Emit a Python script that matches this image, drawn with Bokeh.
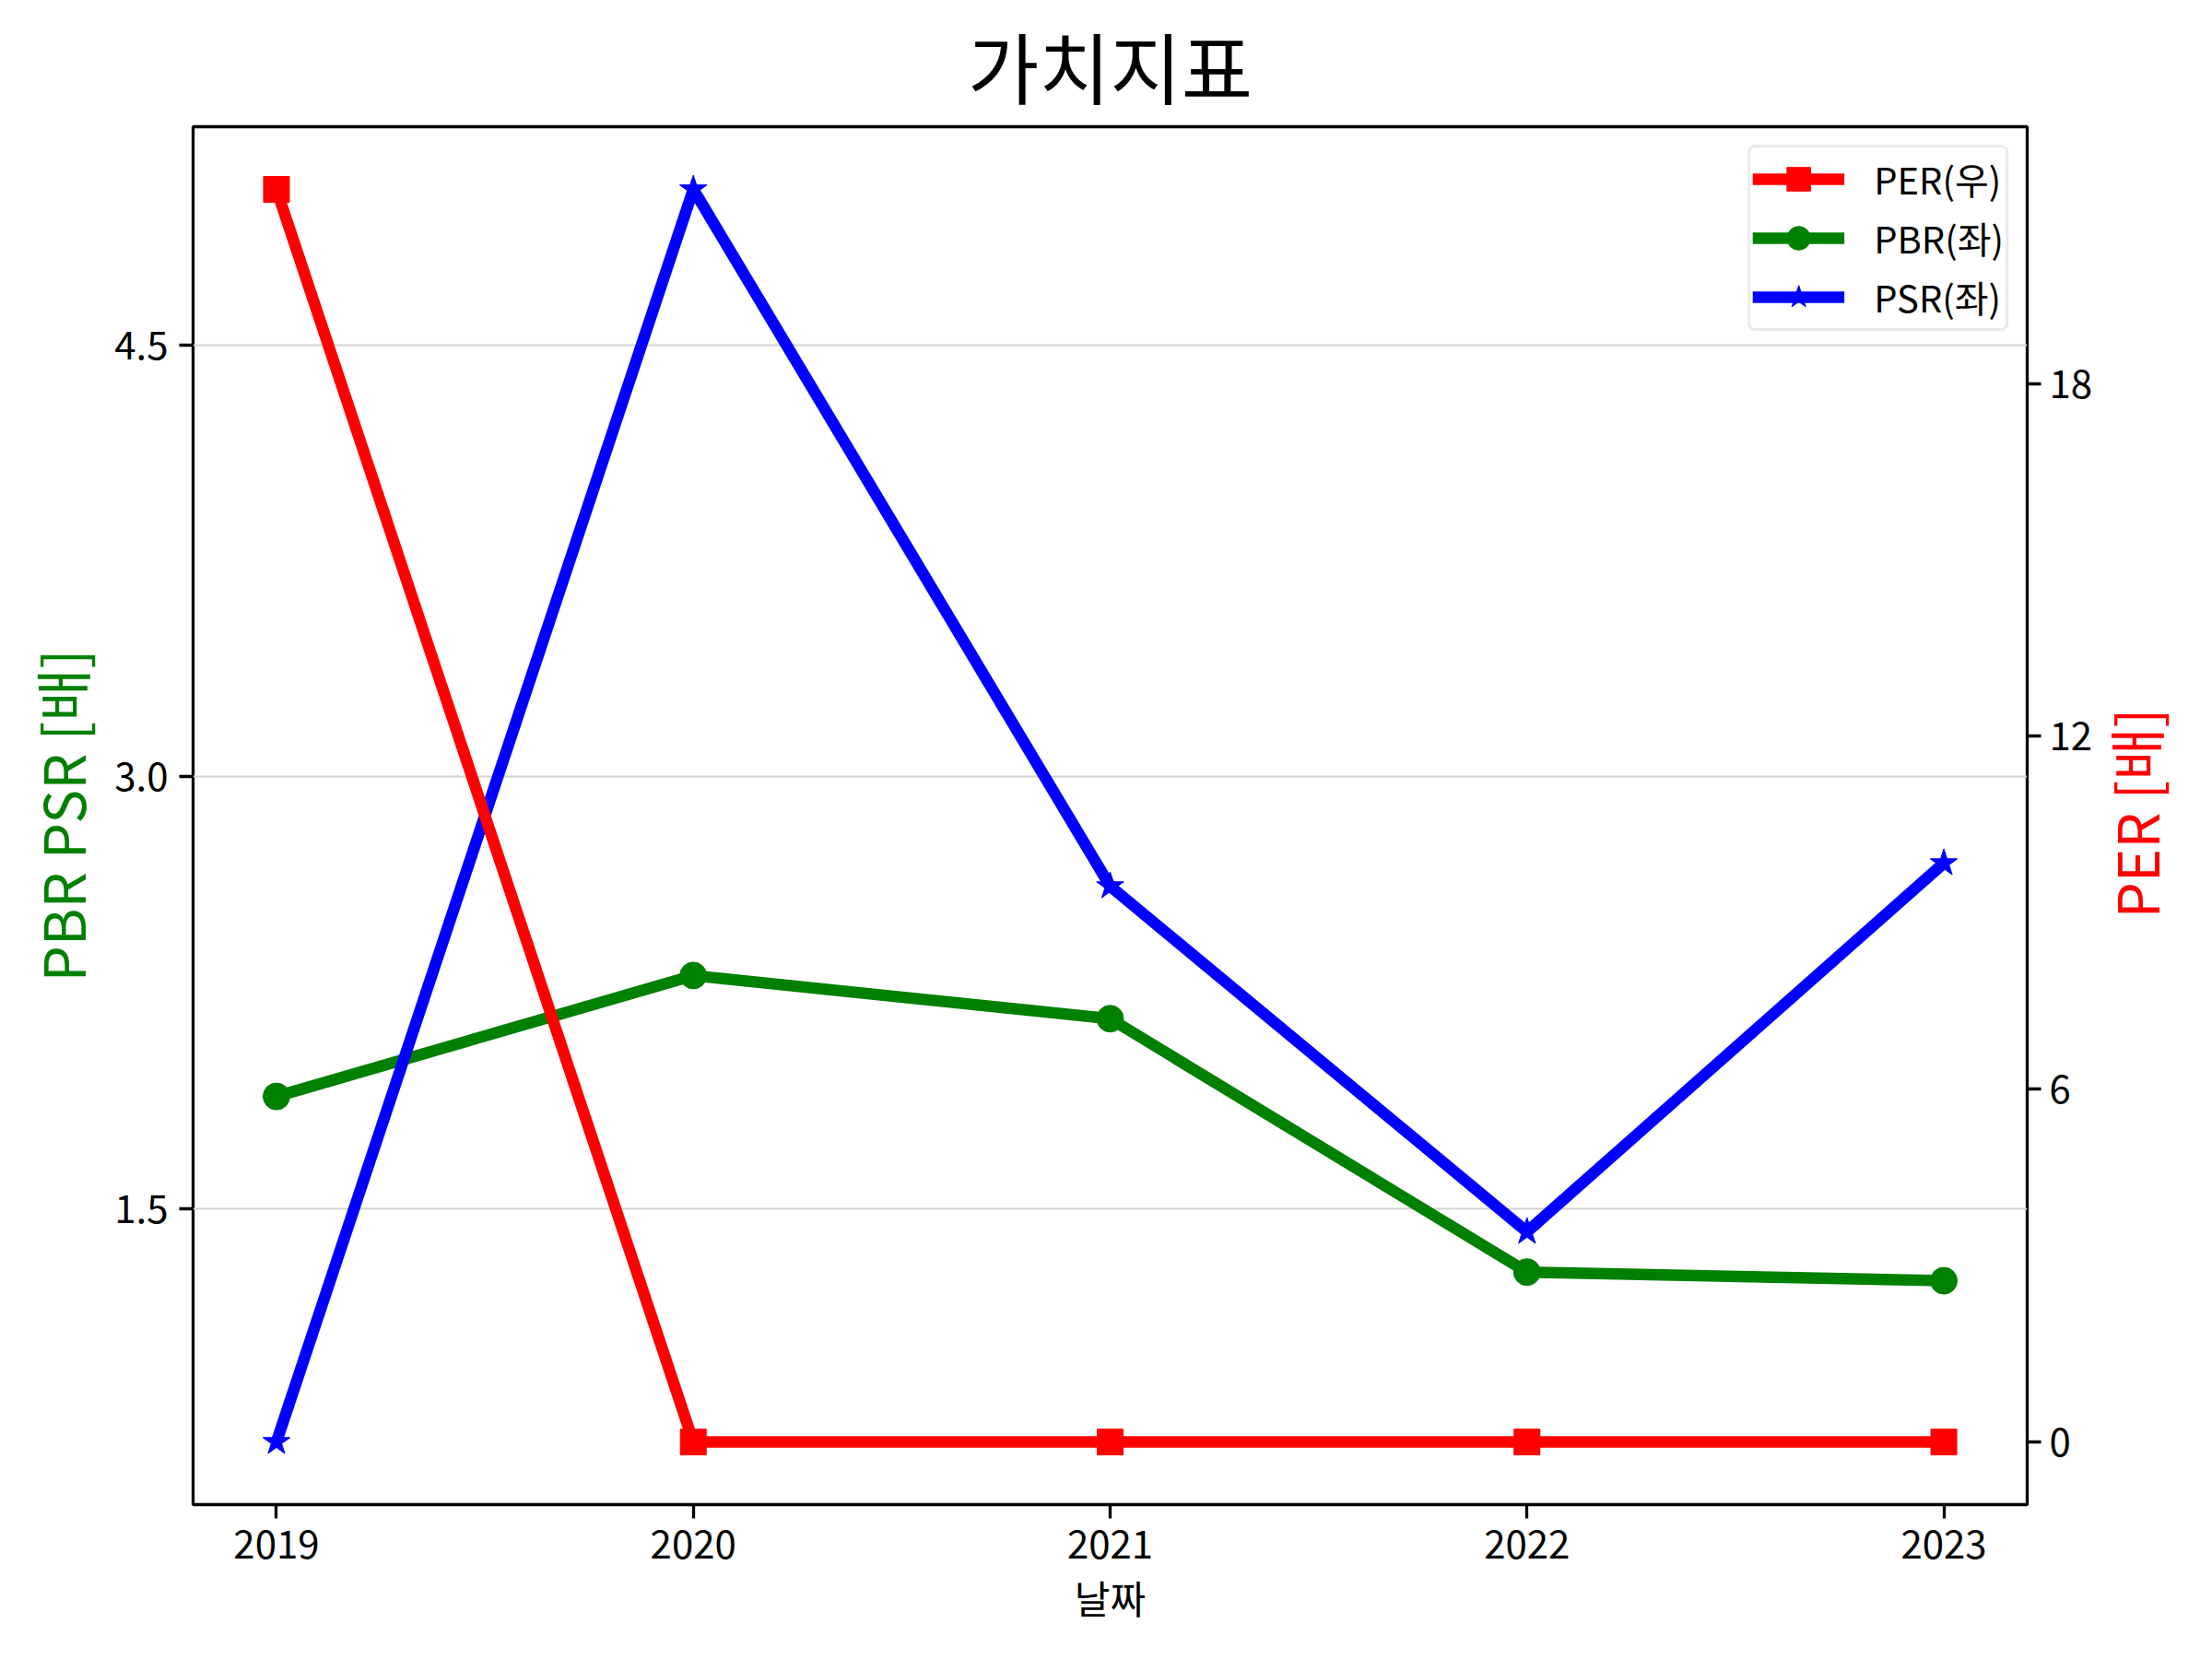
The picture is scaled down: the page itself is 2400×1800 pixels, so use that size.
import math
from bokeh.plotting import figure
from bokeh.models import Range1d, LinearAxis, FixedTicker, PrintfTickFormatter, Legend
from bokeh.embed import file_html
from bokeh.resources import INLINE

years = [2019, 2020, 2021, 2022, 2023]
per = [21.3, 0.0, 0.0, 0.0, 0.0]
pbr = [1.89, 2.31, 2.16, 1.28, 1.25]
psr = [0.69, 5.04, 2.62, 1.42, 2.70]

left_ticks = [1.5, 3.0, 4.5]
right_ticks = [0, 6, 12, 18]

FONT = "Noto Sans CJK KR"
FRAME_W = 1990
FRAME_H = 1495
PER_LABEL = "PER [배]"
PER_LABEL_HALF = 111  # half of the rendered label length, px


def padded(lo, hi, m=0.05):
    d = hi - lo
    return lo - m * d, hi + m * d


x0, x1 = padded(min(years), max(years))
l0, l1 = padded(min(pbr + psr), max(pbr + psr))
r0, r1 = padded(min(per), max(per))

p = figure(width=2384, height=1784, output_backend="svg", toolbar_location=None,
           x_range=Range1d(x0, x1), y_range=Range1d(l0, l1),
           frame_width=FRAME_W, frame_height=FRAME_H,
           min_border_left=209, min_border_right=185, min_border_top=136, min_border_bottom=153)
p.extra_y_ranges = {"per": Range1d(r0, r1), "lbl": Range1d(0, FRAME_H)}

p.title.text = "가치지표"
p.title.align = "center"
p.title.text_font = FONT
p.title.text_font_size = "84px"
p.title.text_font_style = "normal"
p.title.text_color = "black"
p.title.standoff = 14

p.background_fill_color = "white"
p.border_fill_color = "white"
p.outline_line_color = "black"
p.outline_line_width = 3.3

p.xgrid.visible = False
p.ygrid.grid_line_color = "#d3d3d3"
p.ygrid.grid_line_width = 2

ax_r = LinearAxis(y_range_name="per")
p.add_layout(ax_r, "right")

for ax in [p.xaxis[0], p.yaxis[0], ax_r]:
    ax.axis_line_color = None
    ax.major_tick_line_color = "black"
    ax.major_tick_line_width = 3.3
    ax.major_tick_out = 15
    ax.major_tick_in = 0
    ax.minor_tick_line_color = None
    ax.major_label_text_font = FONT
    ax.major_label_text_font_size = "42px"
    ax.major_label_text_color = "black"
    ax.major_label_standoff = 12
    ax.axis_label_text_font = FONT
    ax.axis_label_text_font_style = "normal"

p.xaxis.ticker = FixedTicker(ticks=years)
p.xaxis.axis_label = "날짜"
p.xaxis.axis_label_text_font_size = "42px"
p.xaxis.axis_label_text_color = "black"
p.xaxis.axis_label_standoff = 8

p.yaxis[0].ticker = FixedTicker(ticks=left_ticks)
p.yaxis[0].formatter = PrintfTickFormatter(format="%.1f")
p.yaxis[0].axis_label = "PBR PSR [배]"
p.yaxis[0].axis_label_text_color = "green"
p.yaxis[0].axis_label_text_font_size = "62px"
p.yaxis[0].axis_label_standoff = 10
p.ygrid.ticker = FixedTicker(ticks=left_ticks)

ax_r.ticker = FixedTicker(ticks=right_ticks)
ax_r.major_label_standoff = 9

# right-hand axis title, reading bottom-to-top (as a rotated label of a bare axis)
lbl_tick = int(FRAME_H / 2 - PER_LABEL_HALF)
ax_lbl = LinearAxis(y_range_name="lbl", ticker=FixedTicker(ticks=[lbl_tick]),
                    major_label_overrides={lbl_tick: PER_LABEL})
ax_lbl.axis_line_color = None
ax_lbl.major_tick_line_color = None
ax_lbl.minor_tick_line_color = None
ax_lbl.major_tick_out = 0
ax_lbl.major_tick_in = 0
ax_lbl.major_label_orientation = math.pi / 2
ax_lbl.major_label_standoff = 42
ax_lbl.major_label_text_font = FONT
ax_lbl.major_label_text_font_size = "62px"
ax_lbl.major_label_text_color = "red"
p.add_layout(ax_lbl, "right")

LW = 12.5
l_pbr = p.line(years, pbr, line_color="green", line_width=LW, line_join="round")
s_pbr = p.scatter(years, pbr, marker="circle", size=29, fill_color="green", line_color="green")
l_psr = p.line(years, psr, line_color="blue", line_width=LW, line_join="round")
s_psr = p.scatter(years, psr, marker="star", size=31, fill_color="blue", line_color="blue")
l_per = p.line(years, per, line_color="red", line_width=LW, line_join="round", y_range_name="per")
s_per = p.scatter(years, per, marker="square", size=28, fill_color="red", line_color="red", y_range_name="per")

legend = Legend(items=[("PER(우)", [l_per, s_per]), ("PBR(좌)", [l_pbr, s_pbr]), ("PSR(좌)", [l_psr, s_psr])],
                location="top_right")
legend.label_text_font = FONT
legend.label_text_font_size = "40px"
legend.label_text_color = "black"
legend.glyph_width = 100
legend.glyph_height = 64
legend.label_height = 40
legend.spacing = 0
legend.label_standoff = 32
legend.padding = 2
legend.margin = 20
legend.border_line_color = "#d6d6d6"
legend.border_line_width = 3
legend.border_radius = 8
legend.background_fill_color = "white"
legend.background_fill_alpha = 0.9
p.add_layout(legend, "center")

open("out.html", "w").write(file_html(p, INLINE))
